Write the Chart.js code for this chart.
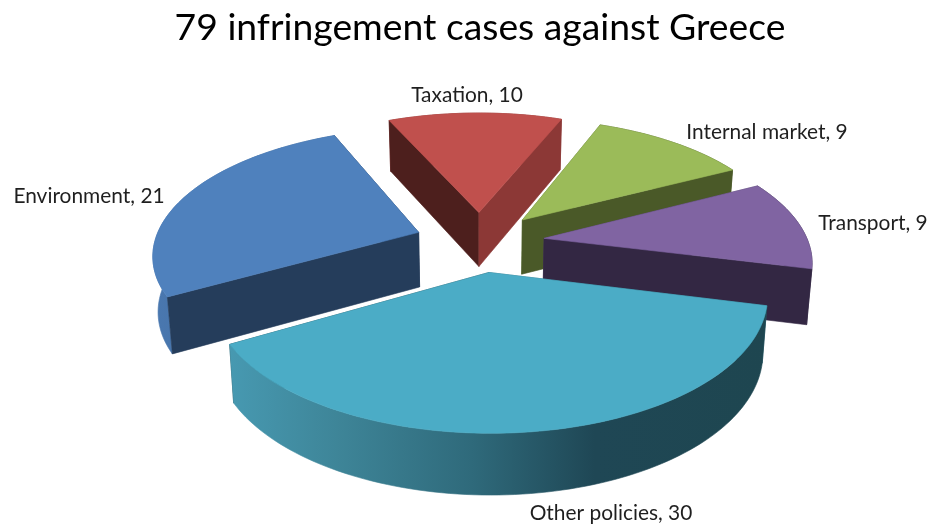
<!DOCTYPE html>
<html>
<head>
<meta charset="utf-8">
<style>
html,body{margin:0;padding:0;background:#fff}
#wrap{width:930px;height:527px;position:relative}
</style>
<script src="https://cdn.jsdelivr.net/npm/chart.js@4"></script>
</head>
<body>
<div id="wrap"><canvas id="c"></canvas></div>
<script>
const titleText = '79 infringement cases against Greece';
const categories = ['Environment', 'Taxation', 'Internal market', 'Transport', 'Other policies'];
const values = [21, 10, 9, 9, 30];

const topColors = ['#4F81BD', '#C0504D', '#9BBB59', '#8064A2', '#4BACC6'];
const cutColors = [
  ['#253D5B', '#253D5B'],
  ['#4D1F1D', '#8C3836'],
  ['#5B7033', '#4A5928'],
  ['#4A3A60', '#332743'],
  ['#2E6B7C', '#1E4650']
];
const rimStops = [
  [[0, '#4A78B0'], [1, '#3A6393']],
  [[0, '#8C3836'], [1, '#8C3836']],
  [[0, '#4A5928'], [1, '#4A5928']],
  [[0, '#332743'], [1, '#332743']],
  [[0, '#4799B1'], [0.2, '#3E8598'], [0.45, '#2F6A7B'], [0.68, '#1F4755'], [1, '#1E4650']]
];
const labelPlaces = [[89, 196], [467, 95], [767, 132], [873, 223], [611, 513]];
const sliceOffsets = [40.4, 40, 40, 40, 39];
const drawOrder = [1, 2, 0, 3, 4];

const view = { radius: 264, tilt: 0.47, perspective: 0.16, depth: 55, zShrink: 0.016, depthGrow: 0.5 };

const pie3d = {
  id: 'pie3d',
  beforeDatasetsDraw(chart) {
    const ctx = chart.ctx;
    const arcs = chart.getDatasetMeta(0).data;
    const scale = view.radius / arcs[0].outerRadius;
    const cx = arcs[0].x, cy = arcs[0].y;
    const project = (gx, gy, z) => {
      const s = 1 / (1 - view.perspective * gy / view.radius);
      const zf = 1 - view.zShrink * z;
      return [cx + gx * s * zf, cy + gy * view.tilt * s + z * view.depth * (1 + view.depthGrow * (s - 1))];
    };
    const poly = (pts, fill) => {
      ctx.beginPath();
      pts.forEach((p, i) => i ? ctx.lineTo(p[0], p[1]) : ctx.moveTo(p[0], p[1]));
      ctx.closePath();
      ctx.fillStyle = fill;
      ctx.fill();
      ctx.strokeStyle = fill;
      ctx.lineWidth = 0.6;
      ctx.stroke();
    };
    drawOrder.forEach(i => {
      const a = arcs[i];
      const mid = (a.startAngle + a.endAngle) / 2;
      const off = a.options.offset * scale;
      const ox = Math.cos(mid) * off, oy = Math.sin(mid) * off;
      const R = a.outerRadius * scale;
      const steps = Math.max(8, Math.round((a.endAngle - a.startAngle) * 40));
      const rimG = [];
      for (let j = 0; j <= steps; j++) {
        const t = a.startAngle + (a.endAngle - a.startAngle) * j / steps;
        rimG.push([ox + Math.cos(t) * R, oy + Math.sin(t) * R]);
      }
      const topPts = rimG.map(p => project(p[0], p[1], 0));
      const botPts = rimG.map(p => project(p[0], p[1], 1));
      const apexT = project(ox, oy, 0), apexB = project(ox, oy, 1);
      const inner = project(ox + Math.cos(mid) * R * .5, oy + Math.sin(mid) * R * .5, 0);
      const first = topPts[0], last = topPts[steps];
      const firstB = botPts[0], lastB = botPts[steps];
      const isFront = (p, q) => {
        const dx = q[0] - p[0];
        const ly = Math.abs(dx) < 1e-6 ? p[1] : p[1] + (inner[0] - p[0]) * (q[1] - p[1]) / dx;
        return ly > inner[1];
      };
      const walls = [
        { pts: [apexT, first, firstB, apexB], col: cutColors[i][0], front: isFront(apexT, first) },
        { pts: [apexT, last, lastB, apexB], col: cutColors[i][1], front: isFront(apexT, last) }
      ];
      walls.filter(w => !w.front).forEach(w => poly(w.pts, w.col));
      const xs = topPts.map(p => p[0]);
      const g = ctx.createLinearGradient(Math.min(...xs), 0, Math.max(...xs), 0);
      rimStops[i].forEach(s => g.addColorStop(s[0], s[1]));
      poly(topPts.concat(botPts.slice().reverse()), g);
      walls.filter(w => w.front).forEach(w => poly(w.pts, w.col));
      poly([apexT].concat(topPts), topColors[i]);
    });
    return false;
  },
  afterDraw(chart) {
    const ctx = chart.ctx;
    ctx.save();
    ctx.font = '20.9px Lato, "Open Sans", sans-serif';
    ctx.fillStyle = '#1f1f1f';
    ctx.textAlign = 'center';
    ctx.textBaseline = 'middle';
    categories.forEach((c, i) => {
      ctx.fillText(c + ', ' + values[i], labelPlaces[i][0], labelPlaces[i][1]);
    });
    ctx.restore();
  }
};

new Chart(document.getElementById('c'), {
  type: 'pie',
  data: {
    labels: categories,
    datasets: [{
      data: values,
      backgroundColor: topColors,
      offset: sliceOffsets,
      borderWidth: 0
    }]
  },
  options: {
    responsive: true,
    maintainAspectRatio: false,
    animation: false,
    rotation: 240.5,
    layout: { padding: { left: 30, right: 0, top: 0, bottom: 102 } },
    plugins: {
      legend: { display: false },
      tooltip: { enabled: false },
      title: {
        display: true,
        text: titleText,
        color: '#000',
        font: { family: 'Lato, "Open Sans", sans-serif', size: 37.3, weight: 'normal' },
        padding: { top: 6, bottom: 8 }
      }
    }
  },
  plugins: [pie3d]
});
</script>
</body>
</html>
